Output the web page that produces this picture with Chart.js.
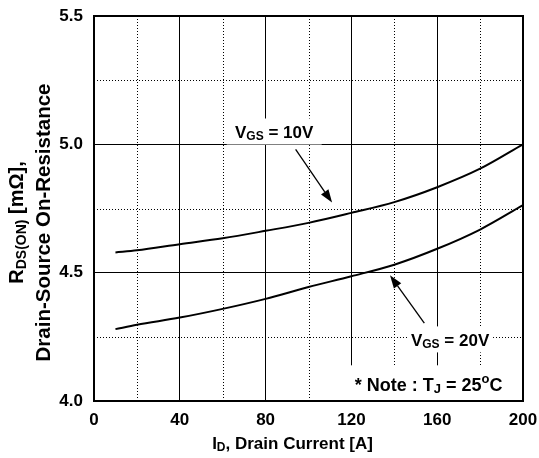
<!DOCTYPE html>
<html>
<head>
<meta charset="utf-8">
<script src="https://cdn.jsdelivr.net/npm/chart.js@4/dist/chart.umd.min.js"></script>
<style>
  body { margin: 0; background: #fff; }
  #wrap { width: 539px; height: 458px; }
</style>
</head>
<body>
<div id="wrap"><canvas id="myChart" width="539" height="458"></canvas></div>
<script>
// drain current I_D [A]
current = [10, 20, 40, 60, 80, 100, 120, 140, 160, 180, 200];
// R_DS(on) [mOhm]
rdsVgs10 = [4.579, 4.587, 4.611, 4.634, 4.663, 4.694, 4.733, 4.775, 4.833, 4.905, 5.0];
rdsVgs20 = [4.28, 4.297, 4.325, 4.359, 4.398, 4.444, 4.486, 4.531, 4.593, 4.668, 4.763];
// labelled ticks (the others get a dotted grid line only)
xTicks = [0, 40, 80, 120, 160, 200];
yTicks = [4.0, 4.5, 5.0, 5.5];

FONT = "'Liberation Sans', Arial, sans-serif";

// callouts, positions in data units
callouts = [
  { parts: [["V"], ["GS", "sub"], [" = 10V"]], x: 84, y: 5.05, w: 95, h: 26, size: 17,
    arrow: [94, 4.98, 111, 4.773] },
  { parts: [["V"], ["GS", "sub"], [" = 20V"]], x: 166, y: 4.24, w: 86, h: 26, size: 17,
    arrow: [154, 4.303, 138, 4.49] },
  { parts: [["* Note : T"], ["J", "sub"], [" = 25"], ["o", "sup"], ["C"]], x: 156, y: 4.065, w: 166, h: 38, size: 18 }
];

function drawRich(ctx, parts, cx, cy, size) {
  let small = Math.round(size * 0.7);
  let total = 0;
  for (p of parts) {
    ctx.font = "bold " + (p[1] ? small : size) + "px " + FONT;
    total += ctx.measureText(p[0]).width;
  }
  let x = cx - total / 2;
  let base = cy + size * 0.36;
  ctx.textAlign = "left";
  ctx.textBaseline = "alphabetic";
  for (p of parts) {
    ctx.font = "bold " + (p[1] ? small : size) + "px " + FONT;
    let dy = 0;
    if (p[1] == "sub") dy = size * 0.12;
    if (p[1] == "sup") dy = -size * 0.42;
    ctx.fillText(p[0], x, base + dy);
    x += ctx.measureText(p[0]).width;
  }
}

function arrow(ctx, x1, y1, x2, y2) {
  let a = Math.atan2(y2 - y1, x2 - x1);
  let len = 13, half = 4.5;
  let bx = x2 - len * Math.cos(a), by = y2 - len * Math.sin(a);
  ctx.lineWidth = 1.3;
  ctx.beginPath();
  ctx.moveTo(x1, y1);
  ctx.lineTo(bx, by);
  ctx.stroke();
  ctx.beginPath();
  ctx.moveTo(x2, y2);
  ctx.lineTo(bx + half * Math.sin(a), by - half * Math.cos(a));
  ctx.lineTo(bx - half * Math.sin(a), by + half * Math.cos(a));
  ctx.closePath();
  ctx.fill();
}

extras = {
  id: "extras",
  beforeDatasetsDraw: function (chart) {
    let ctx = chart.ctx, area = chart.chartArea;
    let xs = chart.scales.x, ys = chart.scales.y;
    ctx.save();
    ctx.strokeStyle = "#000";
    ctx.lineWidth = 1;
    ctx.setLineDash([1, 2]);
    for (t of xs.ticks) {
      if (xTicks.indexOf(t.value) >= 0) continue;
      let px = Math.round(xs.getPixelForValue(t.value)) + 0.5;
      ctx.beginPath();
      ctx.moveTo(px, area.top);
      ctx.lineTo(px, area.bottom);
      ctx.stroke();
    }
    for (t of ys.ticks) {
      if (yTicks.indexOf(t.value) >= 0) continue;
      let py = Math.round(ys.getPixelForValue(t.value)) + 0.5;
      ctx.beginPath();
      ctx.moveTo(area.left, py);
      ctx.lineTo(area.right, py);
      ctx.stroke();
    }
    ctx.restore();
  },
  afterDatasetsDraw: function (chart) {
    let ctx = chart.ctx, area = chart.chartArea;
    let xs = chart.scales.x, ys = chart.scales.y;
    ctx.save();
    ctx.fillStyle = "#000";
    ctx.strokeStyle = "#000";
    for (c of callouts) {
      let cx = xs.getPixelForValue(c.x), cy = ys.getPixelForValue(c.y);
      ctx.fillStyle = "#fff";
      ctx.fillRect(cx - c.w / 2, cy - c.h / 2, c.w, c.h);
      ctx.fillStyle = "#000";
      drawRich(ctx, c.parts, cx, cy, c.size);
      if (c.arrow) {
        arrow(ctx, xs.getPixelForValue(c.arrow[0]), ys.getPixelForValue(c.arrow[1]),
          xs.getPixelForValue(c.arrow[2]), ys.getPixelForValue(c.arrow[3]));
      }
    }
    // plot frame
    ctx.lineWidth = 2;
    ctx.strokeRect(area.left, area.top, area.right - area.left, area.bottom - area.top);

    // axis titles
    drawRich(ctx, [["I"], ["D", "sub"], [", Drain Current [A]"]], (area.left + area.right) / 2 - 16, 443, 17);
    ctx.translate(0, (area.top + area.bottom) / 2 + 14);
    ctx.rotate(-Math.PI / 2);
    drawRich(ctx, [["R"], ["DS(ON)", "sub"], [" [m\u03A9],"]], 0, 16, 20);
    drawRich(ctx, [["Drain-Source On-Resistance"]], 0, 43, 20.5);
    ctx.restore();
  },
};

function lineSet(values) {
  let pts = [];
  for (i = 0; i < current.length; i++) {
    pts.push({ x: current[i], y: values[i] });
  }
  return {
    data: pts,
    borderColor: "#000",
    borderWidth: 2,
    pointRadius: 0,
    fill: false,
    cubicInterpolationMode: "monotone",
  };
}

config = {
  type: "line",
  data: { datasets: [lineSet(rdsVgs10), lineSet(rdsVgs20)] },
  options: {
    responsive: false,
    animation: false,
    layout: { padding: { top: 16, right: 16, left: 0, bottom: 0 } },
    plugins: { legend: { display: false }, tooltip: { enabled: false } },
    scales: {
      x: {
        type: "linear",
        min: 0,
        max: 200,
        afterFit: function (s) {
          s.height = 57;
          s.paddingLeft = 0;
          s.paddingRight = 0;
        },
        border: { display: false },
        grid: {
          drawTicks: false,
          color: function (c) { return xTicks.indexOf(c.tick.value) >= 0 ? "#000" : "rgba(0,0,0,0)"; },
        },
        ticks: {
          stepSize: 20,
          autoSkip: false,
          maxRotation: 0,
          padding: 9,
          color: "#000",
          font: { family: FONT, size: 17, weight: "bold" },
          callback: function (v) { return xTicks.indexOf(v) >= 0 ? String(v) : ""; },
        },
      },
      y: {
        min: 4.0,
        max: 5.5,
        afterFit: function (s) {
          s.width = 94;
          s.paddingTop = 0;
          s.paddingBottom = 0;
        },
        border: { display: false },
        grid: {
          drawTicks: false,
          color: function (c) { return yTicks.indexOf(c.tick.value) >= 0 ? "#000" : "rgba(0,0,0,0)"; },
        },
        ticks: {
          stepSize: 0.25,
          autoSkip: false,
          padding: 11,
          color: "#000",
          font: { family: FONT, size: 17, weight: "bold" },
          callback: function (v) { return yTicks.indexOf(v) >= 0 ? v.toFixed(1) : ""; },
        },
      },
    },
  },
  plugins: [extras],
};

myChart = new Chart(document.getElementById("myChart"), config);
</script>
</body>
</html>
